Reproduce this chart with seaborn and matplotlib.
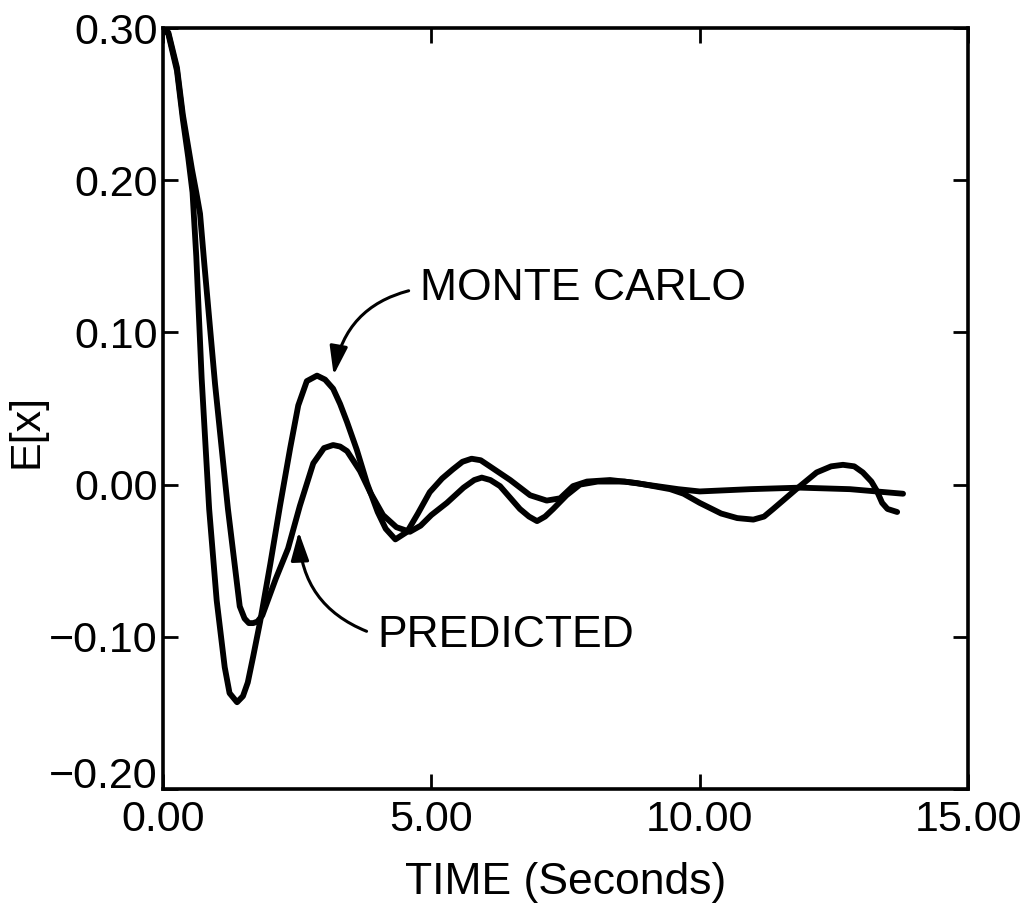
import numpy as np
import pandas as pd
import matplotlib
matplotlib.use("Agg")
import matplotlib.pyplot as plt
import matplotlib.transforms as mtransforms
import seaborn as sns

# ---- data ----
mc_time = [0.00, 0.10, 0.26, 0.37, 0.47, 0.55, 0.62, 0.72, 0.86, 1.00, 1.15, 1.24, 1.38,
           1.49, 1.58, 1.68, 1.81, 2.00, 2.18, 2.37, 2.52, 2.68, 2.87, 3.02, 3.17, 3.30,
           3.43, 3.61, 3.80, 4.00, 4.15, 4.33, 4.55, 4.75, 4.97, 5.20, 5.40, 5.58, 5.75,
           5.92, 6.09, 6.47, 6.84, 7.15, 7.40, 7.64, 7.90, 8.33, 8.83, 9.45, 9.70, 10.00,
           10.40, 10.70, 11.00, 11.20, 11.37, 11.80, 12.18, 12.45, 12.67, 12.88, 13.04,
           13.20, 13.30, 13.40, 13.50, 13.68]
mc_value = [0.300, 0.296, 0.272, 0.240, 0.215, 0.192, 0.150, 0.070, -0.016, -0.076, -0.120,
            -0.137, -0.143, -0.139, -0.130, -0.113, -0.090, -0.052, -0.014, 0.024, 0.052,
            0.068, 0.0716, 0.069, 0.063, 0.053, 0.041, 0.023, 0.001, -0.018, -0.029, -0.036,
            -0.031, -0.019, -0.005, 0.004, 0.010, 0.015, 0.017, 0.016, 0.012, 0.003, -0.007,
            -0.0105, -0.009, -0.001, 0.002, 0.003, 0.001, -0.003, -0.006, -0.012, -0.019,
            -0.022, -0.023, -0.021, -0.016, -0.003, 0.008, 0.012, 0.013, 0.012, 0.008,
            0.002, -0.004, -0.012, -0.016, -0.018]

pred_time = [0.00, 0.10, 0.26, 0.37, 0.54, 0.62, 0.69, 0.77, 0.97, 1.21, 1.43, 1.52, 1.60,
             1.68, 1.76, 1.85, 2.10, 2.33, 2.55, 2.80, 3.00, 3.17, 3.30, 3.43, 3.67, 3.86,
             4.10, 4.35, 4.60, 4.80, 5.00, 5.29, 5.60, 5.80, 5.94, 6.10, 6.28, 6.65, 6.82,
             6.97, 7.12, 7.27, 7.52, 7.77, 8.10, 8.60, 9.20, 9.60, 10.00, 10.94, 11.87,
             12.80, 13.79]
pred_value = [0.300, 0.297, 0.274, 0.243, 0.207, 0.192, 0.178, 0.145, 0.066, -0.016, -0.080,
              -0.088, -0.091, -0.091, -0.090, -0.086, -0.062, -0.042, -0.014, 0.014, 0.024,
              0.026, 0.025, 0.022, 0.009, -0.005, -0.020, -0.028, -0.031, -0.027, -0.020,
              -0.012, -0.002, 0.003, 0.0046, 0.003, -0.001, -0.016, -0.021, -0.024, -0.021,
              -0.016, -0.007, 0.000, 0.002, 0.002, -0.001, -0.003, -0.0045, -0.003, -0.002,
              -0.003, -0.006]

x_ticks = [0.0, 5.0, 10.0, 15.0]
y_ticks = [-0.20, -0.10, 0.00, 0.10, 0.20, 0.30]
series_names = ["MONTE CARLO", "PREDICTED"]

df = pd.DataFrame({
    "time": mc_time + pred_time,
    "value": mc_value + pred_value,
    "series": [series_names[0]] * len(mc_time) + [series_names[1]] * len(pred_time),
})

sns.set_style("ticks")
plt.rcParams["font.family"] = ["Liberation Sans", "DejaVu Sans"]
plt.rcParams["text.color"] = "black"
plt.rcParams["axes.labelcolor"] = "black"
plt.rcParams["xtick.color"] = "black"
plt.rcParams["ytick.color"] = "black"

fig = plt.figure(figsize=(10.24, 9.07), dpi=100)
ax = fig.add_axes([163 / 1024, 1 - 789 / 907, (968 - 163) / 1024, (789 - 28) / 907])

sns.lineplot(data=df, x="time", y="value", hue="series", units="series", estimator=None,
             palette={series_names[0]: "black", series_names[1]: "black"},
             linewidth=4.2, legend=False, ax=ax)
for ln in ax.lines:
    ln.set_solid_joinstyle("round")
    ln.set_solid_capstyle("round")

def fmt(v, pos=None):
    return ("%.2f" % v).replace("-", "\u2212")

ax.set_xlim(0, 15)
ax.set_ylim(-0.20, 0.30)
ax.set_xticks(x_ticks)
ax.set_yticks(y_ticks)
ax.xaxis.set_major_formatter(matplotlib.ticker.FuncFormatter(fmt))
ax.yaxis.set_major_formatter(matplotlib.ticker.FuncFormatter(fmt))
ax.tick_params(direction="in", length=11, width=2, top=True, right=True,
               labeltop=False, labelright=False, labelsize=31, colors="black")
ax.tick_params(axis="y", pad=4)
ax.tick_params(axis="x", pad=8)
for sp in ax.spines.values():
    sp.set_linewidth(2.6)
    sp.set_color("black")

ax.set_xlabel("TIME (Seconds)", fontsize=32, labelpad=16, color="black")
ax.set_ylabel("E[x]", fontsize=31, color="black")
ax.yaxis.set_label_coords(-0.145, 0.47)

# lift the lowest y tick label a little, as in the reference
fig.canvas.draw()
ylabels = ax.get_yticklabels()
lowest = ylabels[0]
lowest.set_transform(lowest.get_transform() +
                     mtransforms.ScaledTranslation(0, 0.17, fig.dpi_scale_trans))

arrow_kw = dict(arrowstyle="-|>,head_length=0.7,head_width=0.22", color="black", lw=2.2,
                mutation_scale=25, shrinkA=6, shrinkB=0, relpos=(0, 0.5))
ax.annotate("MONTE CARLO", xy=(3.18, 0.072), xytext=(4.79, 0.129), textcoords="data",
            ha="left", va="center", fontsize=32, color="black",
            arrowprops=dict(connectionstyle="arc3,rad=0.35", **arrow_kw))
ax.annotate("PREDICTED", xy=(2.53, -0.031), xytext=(4.0, -0.099), textcoords="data",
            ha="left", va="center", fontsize=32, color="black",
            arrowprops=dict(connectionstyle="arc3,rad=-0.35", **arrow_kw))

fig.savefig("out.png", dpi=100, facecolor="white")
